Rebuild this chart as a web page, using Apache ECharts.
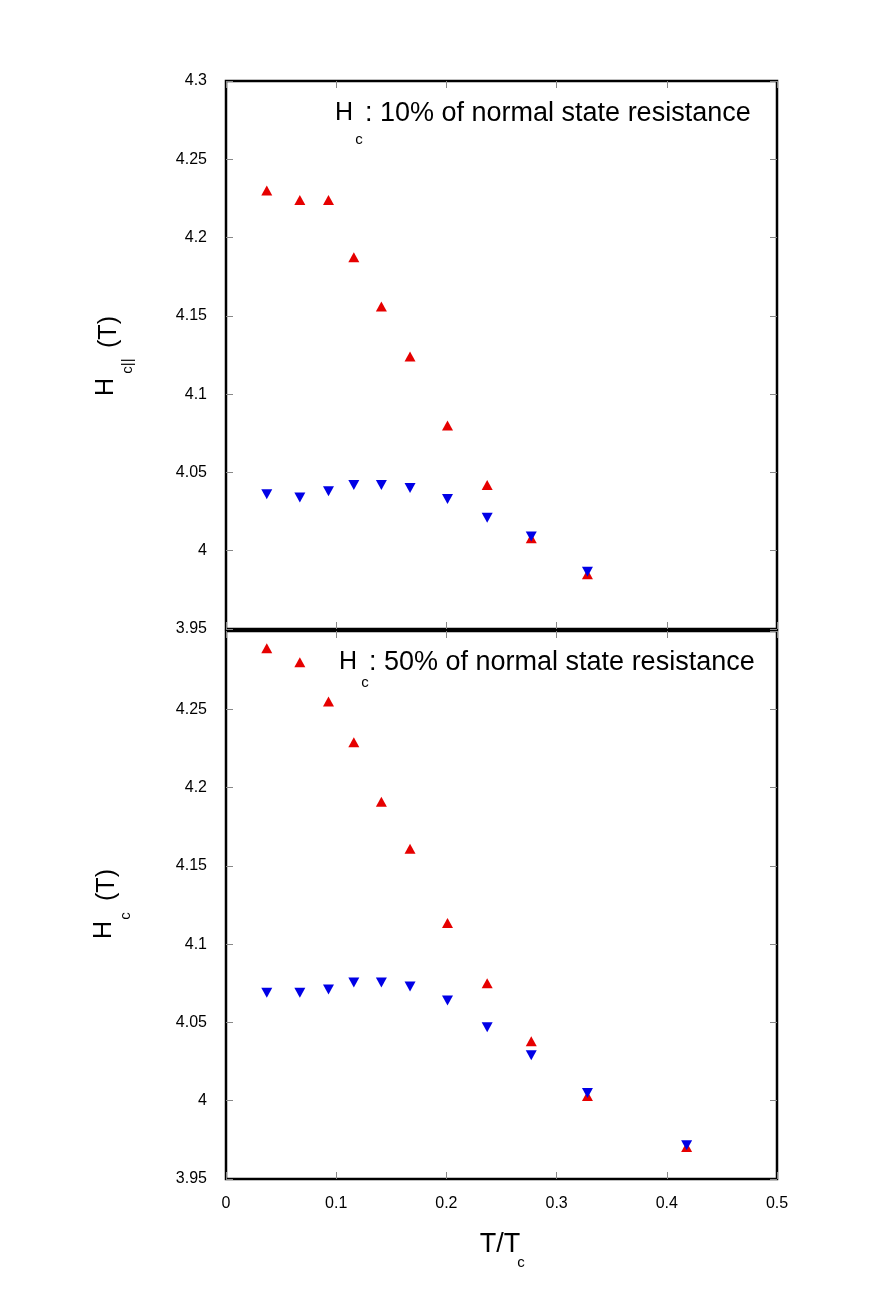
<!DOCTYPE html>
<html>
<head>
<meta charset="utf-8">
<script src="https://cdn.jsdelivr.net/npm/echarts@6/dist/echarts.min.js"></script>
<style>
  html, body { margin: 0; padding: 0; background: #fff; }
  #chart { width: 893px; height: 1316px; }
</style>
</head>
<body>
<div id="chart"></div>
<script>
// T/Tc values
var xTop = [0.037, 0.067, 0.093, 0.116, 0.141, 0.167, 0.201, 0.237, 0.277, 0.328];
var xBot = [0.037, 0.067, 0.093, 0.116, 0.141, 0.167, 0.201, 0.237, 0.277, 0.328, 0.418];
// Hc at 10% of normal state resistance
var red10  = [4.230, 4.224, 4.224, 4.1875, 4.156, 4.124, 4.080, 4.042, 4.008, 3.985];
var blue10 = [4.036, 4.034, 4.038, 4.042, 4.042, 4.040, 4.033, 4.021, 4.009, 3.9865];
// Hc at 50% of normal state resistance
var red50  = [4.289, 4.280, 4.255, 4.229, 4.191, 4.161, 4.1135, 4.075, 4.038, 4.003, 3.9705];
var blue50 = [4.069, 4.069, 4.071, 4.0755, 4.0755, 4.073, 4.064, 4.047, 4.029, 4.005, 3.9716];

var FONT = 'Liberation Sans';
var RED = '#e60000', BLUE = '#0000e6';

function pairs(xs, ys) {
    return xs.map(function (x, i) { return [x, ys[i]]; });
}
function fmt(v) { return String(parseFloat(v.toFixed(2))); }

var tick = { show: true, inside: true, length: 7, lineStyle: { color: '#888', width: 1 } };

function xAx(grid, pos, labels) {
    return {
        type: 'value', gridIndex: grid, position: pos, min: 0, max: 0.5, interval: 0.1,
        axisLine: { show: false, onZero: false }, axisTick: tick, splitLine: { show: false },
        axisLabel: { show: labels, color: '#000', fontFamily: FONT, fontSize: 16, margin: 17, formatter: fmt }
    };
}
function yAx(grid, pos, labels, showMax) {
    return {
        type: 'value', gridIndex: grid, position: pos, min: 3.95, max: 4.3, interval: 0.05,
        axisLine: { show: false, onZero: false }, axisTick: tick, splitLine: { show: false },
        axisLabel: { show: labels, showMaxLabel: showMax, color: '#000', fontFamily: FONT,
                     fontSize: 16, margin: 19, formatter: fmt }
    };
}
function scatter(xi, yi, data, color, down) {
    return {
        type: 'scatter', xAxisIndex: xi, yAxisIndex: yi, data: data,
        symbol: 'triangle', symbolSize: [11, 10], symbolRotate: down ? 180 : 0,
        itemStyle: { color: color, opacity: 1 }, silent: true, animation: false
    };
}
function txt(x, y, s, size, rot, align) {
    return {
        type: 'text', x: x, y: y, rotation: rot || 0,
        style: { text: s, fontFamily: FONT, fontSize: size, fill: '#000',
                 align: align || 'center', verticalAlign: 'middle' }
    };
}

var chart = echarts.init(document.getElementById('chart'));
var R = Math.PI / 2;

chart.setOption({
    backgroundColor: '#fff',
    animation: false,
    grid: [
        { left: 226, top: 81, width: 551, height: 548, show: true, borderColor: '#000', borderWidth: 2.5, backgroundColor: 'transparent' },
        { left: 226, top: 631, width: 551, height: 548, show: true, borderColor: '#000', borderWidth: 2.5, backgroundColor: 'transparent' }
    ],
    xAxis: [xAx(0, 'bottom', false), xAx(1, 'bottom', true), xAx(0, 'top', false), xAx(1, 'top', false)],
    yAxis: [yAx(0, 'left', true, true), yAx(1, 'left', true, false), yAx(0, 'right', false, true), yAx(1, 'right', false, true)],
    series: [
        scatter(0, 0, pairs(xTop, red10), RED, false),
        scatter(0, 0, pairs(xTop, blue10), BLUE, true),
        scatter(1, 1, pairs(xBot, red50), RED, false),
        scatter(1, 1, pairs(xBot, blue50), BLUE, true)
    ],
    graphic: [
        // panel annotations
        txt(344, 113, 'H', 25),
        txt(359, 140, 'c', 15),
        txt(365, 114, ': 10% of normal state resistance', 27, 0, 'left'),
        txt(348, 662, 'H', 25),
        txt(365, 683, 'c', 15),
        txt(369, 663, ': 50% of normal state resistance', 27, 0, 'left'),
        // y axis names
        txt(106, 387, 'H', 25, R),
        txt(128, 366, 'c||', 15, R),
        txt(109, 332, '(T)', 25, R),
        txt(104, 930, 'H', 25, R),
        txt(126, 916, 'c', 15, R),
        txt(107, 885, '(T)', 25, R),
        // x axis name
        txt(500, 1245, 'T/T', 27),
        txt(521, 1263, 'c', 15)
    ]
});
</script>
</body>
</html>
